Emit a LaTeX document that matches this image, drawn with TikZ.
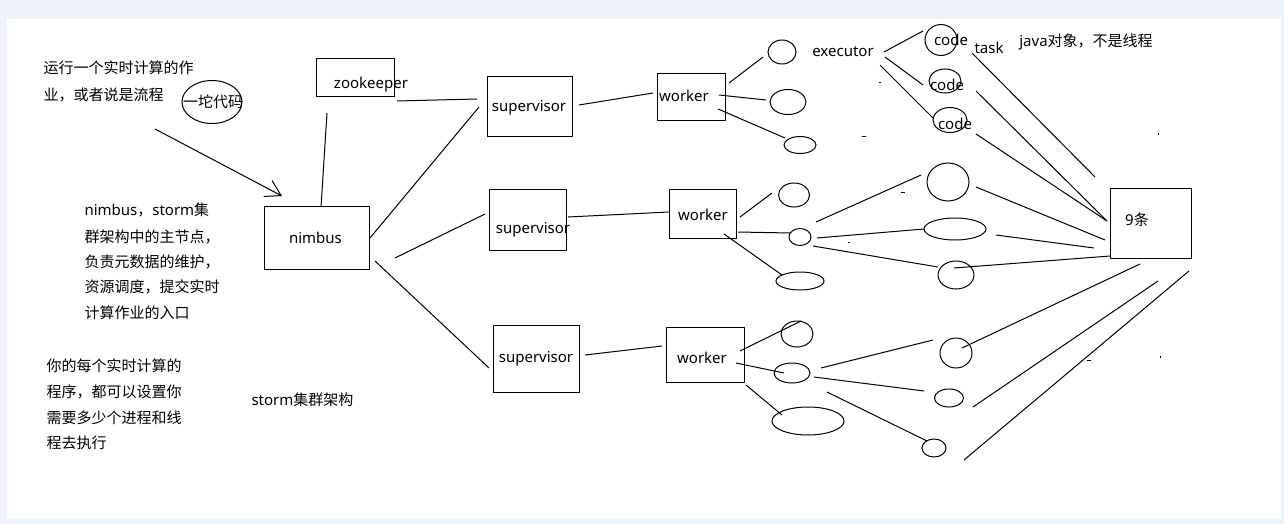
\documentclass[tikz,border=0pt]{standalone}
\usepackage{fontspec}
\setmainfont{Noto Sans CJK SC}
\newfontfamily\lat{Noto Sans}
\usetikzlibrary{arrows.meta,shapes.geometric}
\definecolor{frame}{HTML}{EEF2F9}
\begin{document}
\begin{tikzpicture}[x=1pt,y=-1pt,line width=1pt,
  box/.style={draw,inner sep=0pt},
  ell/.style={draw,ellipse,inner sep=0pt},
  txt/.style={inner sep=0pt,font=\fontsize{15}{18}\selectfont},
  ltxt/.style={txt,anchor=base,font=\lat\fontsize{15}{18}\selectfont},
  wire/.style={draw,line width=1pt},
  arr/.style={wire,-{Straight Barb[length=15pt,width=18pt]}},
  speck/.style={draw,line width=1pt}]
\fill[frame] (0,0) rectangle (1284,524);
\fill[white] (7,19) rectangle (1281,519);
\useasboundingbox (0,0) rectangle (1284,524);

% ---- boxes
\node[box,minimum width=78pt,minimum height=38pt] (zk) at (355,78) {};
\node[box,minimum width=105pt,minimum height=63pt] (nimbus) at (316.5,237.5) {};
\node[box,minimum width=85pt,minimum height=59pt] (sup1) at (529.5,106.5) {};
\node[box,minimum width=77pt,minimum height=61pt] (sup2) at (527.5,219.5) {};
\node[box,minimum width=86pt,minimum height=67pt] (sup3) at (536,358.5) {};
\node[box,minimum width=68pt,minimum height=47pt] (w1) at (691,97.5) {};
\node[box,minimum width=67pt,minimum height=49pt] (w2) at (702.5,213.5) {};
\node[box,minimum width=78pt,minimum height=55pt] (w3) at (705,354.5) {};
\node[box,minimum width=81pt,minimum height=70pt] (box9) at (1150.5,223) {};

% ---- ellipses
\node[ell,minimum width=60pt,minimum height=43pt] (blob) at (212,102) {};
\node[ell,minimum width=28pt,minimum height=24pt] (e11) at (782,52) {};
\node[ell,minimum width=36pt,minimum height=25pt] (e12) at (788,102) {};
\node[ell,minimum width=32pt,minimum height=17pt] (e13) at (800,145) {};
\node[ell,minimum width=31pt,minimum height=24pt] (e21) at (794,195) {};
\node[ell,minimum width=22pt,minimum height=17pt] (e22) at (800,237) {};
\node[ell,minimum width=48pt,minimum height=18pt] (e23) at (800,281) {};
\node[ell,minimum width=32pt,minimum height=26pt] (e31) at (797,334) {};
\node[ell,minimum width=36pt,minimum height=20pt] (e32) at (792,373) {};
\node[ell,minimum width=72pt,minimum height=28pt] (e33) at (808,421) {};
\node[ell,minimum width=32pt,minimum height=31pt] (c1) at (941,40) {};
\node[ell,minimum width=32pt,minimum height=24pt] (c2) at (945,81) {};
\node[ell,minimum width=34pt,minimum height=25pt] (c3) at (950,120) {};
\node[ell,minimum width=42pt,minimum height=38pt] (t21) at (948,182) {};
\node[ell,minimum width=62pt,minimum height=22pt] (t22) at (955,229) {};
\node[ell,minimum width=36pt,minimum height=28pt] (t23) at (956,275) {};
\node[ell,minimum width=32pt,minimum height=30pt] (t31) at (956,353) {};
\node[ell,minimum width=29pt,minimum height=18pt] (t32) at (949,398) {};
\node[ell,minimum width=24pt,minimum height=18pt] (t33) at (934,448) {};

% ---- labels (Latin words placed on their baselines)
\node[ltxt] (zkt) at (371,88.5) {zookeeper};
\node[ltxt] (nimt) at (315.5,243) {nimbus};
\node[ltxt] (s1t) at (529,111.5) {supervisor};
\node[ltxt] (s2t) at (533,233) {supervisor};
\node[ltxt] (s3t) at (536,362.5) {supervisor};
\node[ltxt] (w1t) at (684,101.5) {worker};
\node[ltxt] (w2t) at (703,220.5) {worker};
\node[ltxt] (w3t) at (702,363.5) {worker};
\node[ltxt] (exect) at (843,56.5) {executor};
\node[ltxt] (c1t) at (951,46) {code};
\node[ltxt] (c2t) at (947,91) {code};
\node[ltxt] (c3t) at (955,129.5) {code};
\node[ltxt] (taskt) at (989,53.5) {task};
\node[txt] (javat) at (1086,42) {{\lat java}对象，不是线程};
\node[txt] (ninet) at (1137,220) {{\lat 9}条};
\node[txt] (blobt) at (213,102) {一坨代码};

\node[txt,anchor=west] (a1) at (43,68) {运行一个实时计算的作};
\node[txt,anchor=west] (a2) at (43,95) {业，或者说是流程};

\node[txt,anchor=west] (b1) at (84,210) {{\lat nimbus}，{\lat storm}集};
\node[txt,anchor=west] (b2) at (84,237) {群架构中的主节点，};
\node[txt,anchor=west] (b3) at (84,262) {负责元数据的维护，};
\node[txt,anchor=west] (b4) at (84,287) {资源调度，提交实时};
\node[txt,anchor=west] (b5) at (84,313) {计算作业的入口};

\node[txt,anchor=west] (d1) at (46,366) {你的每个实时计算的};
\node[txt,anchor=west] (d2) at (46,392) {程序，都可以设置你};
\node[txt,anchor=west] (d3) at (46,418) {需要多少个进程和线};
\node[txt,anchor=west] (d4) at (46,443) {程去执行};

\node[txt,anchor=west] (title) at (251,400) {{\lat storm}集群架构};

% ---- connector end points
\coordinate (p1a) at (155,129);  \coordinate (p1b) at (282,196);
\coordinate (p2a) at (327,113);  \coordinate (p2b) at (321,207);
\coordinate (p3a) at (397,101);  \coordinate (p3b) at (477,99);
\coordinate (p4a) at (370,238);  \coordinate (p4b) at (479,107);
\coordinate (p5a) at (395,258);  \coordinate (p5b) at (485,214);
\coordinate (p6a) at (375,261);  \coordinate (p6b) at (489,368);
\coordinate (p7a) at (579,105);  \coordinate (p7b) at (653,93);
\coordinate (p8a) at (568,217);  \coordinate (p8b) at (669,212);
\coordinate (p9a) at (585,355);  \coordinate (p9b) at (662,346);
\coordinate (q1a) at (729,83);   \coordinate (q1b) at (763,57);
\coordinate (q2a) at (719,95);   \coordinate (q2b) at (766,100);
\coordinate (q3a) at (718,109);  \coordinate (q3b) at (785,138);
\coordinate (q4a) at (740,217);  \coordinate (q4b) at (772,193);
\coordinate (q5a) at (738,232);  \coordinate (q5b) at (790,233);
\coordinate (q6a) at (724,234);  \coordinate (q6b) at (782,275);
\coordinate (q7a) at (740,351);  \coordinate (q7b) at (801,321);
\coordinate (q8a) at (736,363);  \coordinate (q8b) at (784,373);
\coordinate (q9a) at (746,385);  \coordinate (q9b) at (782,415);
\coordinate (r1a) at (884,52);   \coordinate (r1b) at (923,31);
\coordinate (r2a) at (885,57);   \coordinate (r2b) at (923,85);
\coordinate (r3a) at (880,65);   \coordinate (r3b) at (933,118);
\coordinate (r4a) at (972,53);   \coordinate (r4b) at (1095,177);
\coordinate (r5a) at (976,91);   \coordinate (r5b) at (1107,221);
\coordinate (r6a) at (976,134);  \coordinate (r6b) at (1107,221);
\coordinate (s1a) at (816,222);  \coordinate (s1b) at (921,175);
\coordinate (s2a) at (976,187);  \coordinate (s2b) at (1105,240);
\coordinate (s3a) at (817,238);  \coordinate (s3b) at (924,229);
\coordinate (s4a) at (996,235);  \coordinate (s4b) at (1094,248);
\coordinate (s5a) at (813,246);  \coordinate (s5b) at (938,267);
\coordinate (s6a) at (954,268);  \coordinate (s6b) at (1110,256);
\coordinate (u1a) at (1140,264); \coordinate (u1b) at (962,348);
\coordinate (u2a) at (821,368);  \coordinate (u2b) at (933,340);
\coordinate (u3a) at (814,377);  \coordinate (u3b) at (924,391);
\coordinate (u4a) at (1158,281); \coordinate (u4b) at (973,407);
\coordinate (u5a) at (827,392);  \coordinate (u5b) at (927,441);
\coordinate (u6a) at (1189,271); \coordinate (u6b) at (964,460);

% ---- connectors
\draw[arr] (p1a) -- (p1b);
\foreach \n in {p2,p3,p4,p5,p6,p7,p8,p9,q1,q2,q3,q4,q5,q6,q7,q8,q9,
                r1,r2,r3,r4,r5,r6,s1,s2,s3,s4,s5,s6,u1,u2,u3,u4,u5,u6}
  \draw[wire] (\n a) -- (\n b);

% ---- stray specks
\draw[speck] (879,83) -- (880.5,83);
\draw[speck] (862,136) -- (866,136);
\draw[speck] (901,192) -- (905,192);
\draw[speck] (848,242) -- (849.5,242);
\draw[speck] (1158,133) -- (1158,134.5);
\draw[speck] (1087,360) -- (1091,360);
\draw[speck] (1160,356) -- (1160,357.5);
\draw[speck] (497,250) -- (498.5,250);
\end{tikzpicture}
\end{document}
